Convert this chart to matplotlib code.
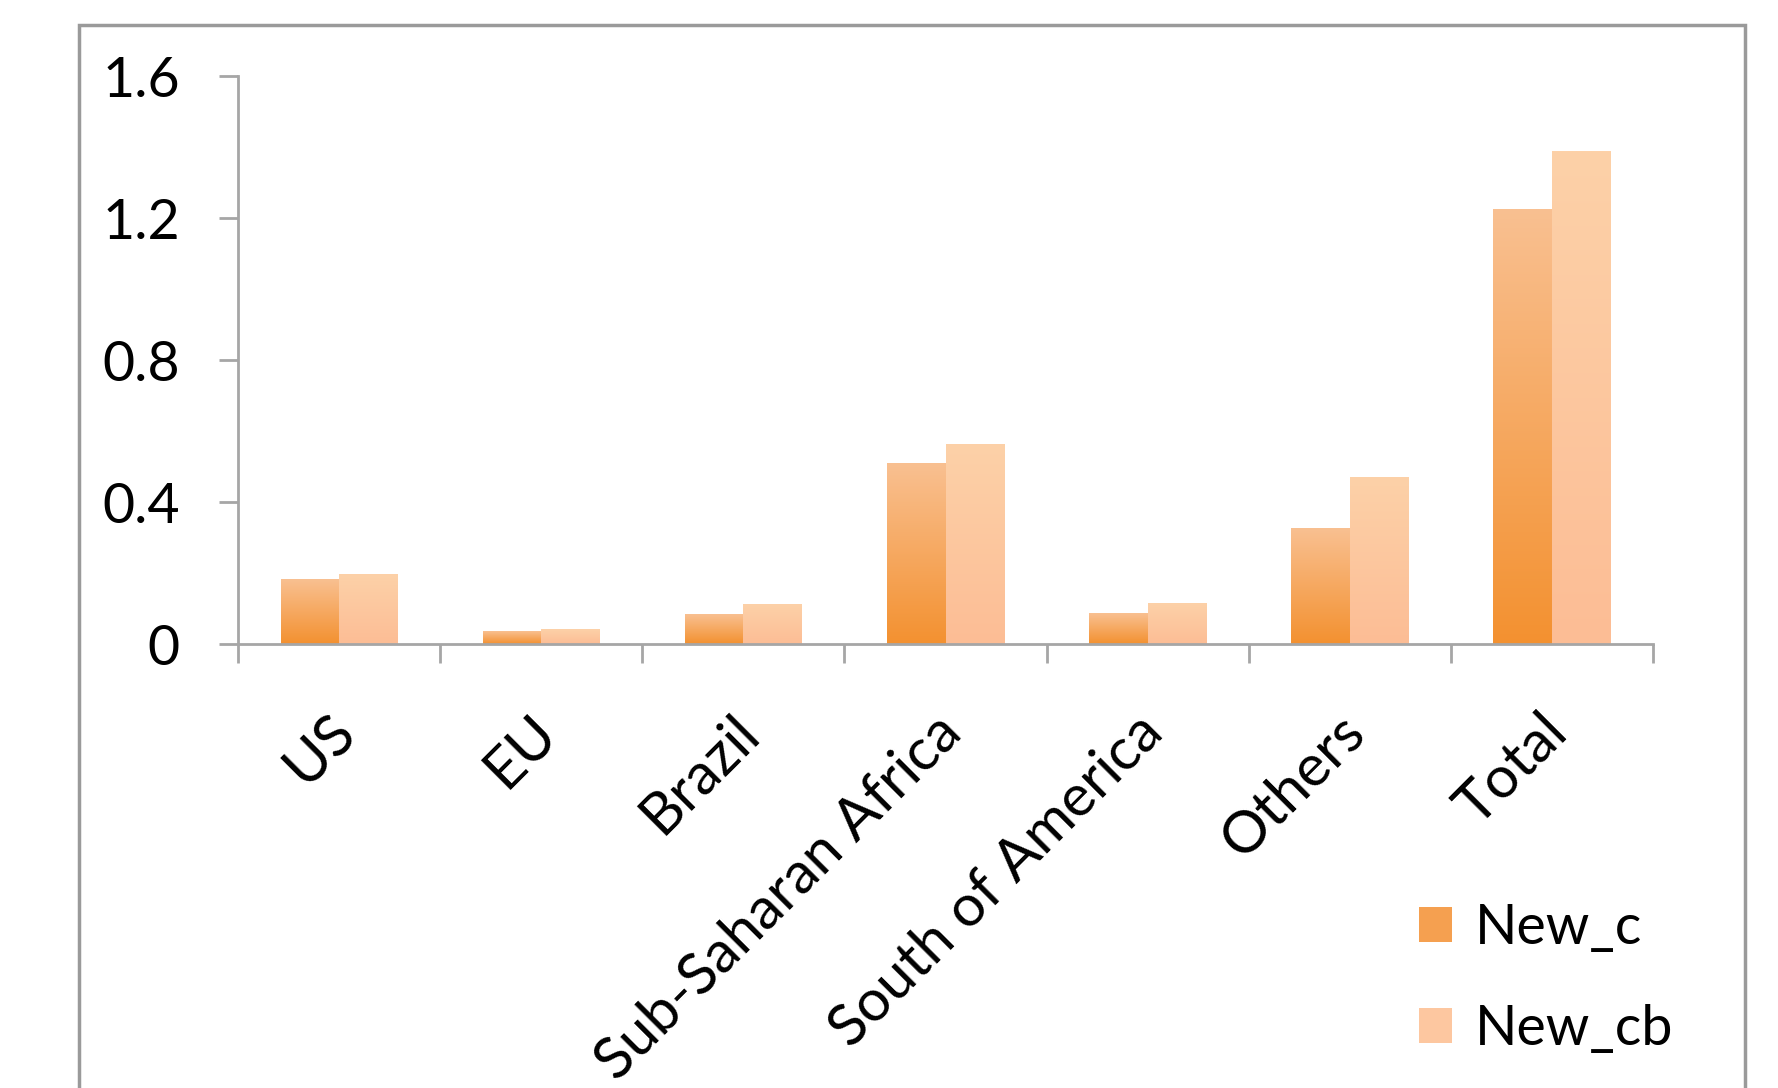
import numpy as np
import matplotlib.pyplot as plt
from matplotlib.colors import LinearSegmentedColormap
from matplotlib.patches import Rectangle, Patch
from matplotlib.transforms import ScaledTranslation

plt.rcParams['font.family'] = ['Lato', 'DejaVu Sans']

# data
regions = ['US', 'EU', 'Brazil', 'Sub-Saharan Africa', 'South of America', 'Others', 'Total']
new_c = [0.182, 0.035, 0.083, 0.508, 0.086, 0.326, 1.224]
new_cb = [0.195, 0.040, 0.110, 0.562, 0.115, 0.470, 1.387]
series = ['New_c', 'New_cb']
yticks = [0, 0.4, 0.8, 1.2, 1.6]
ytick_labels = ['0', '0.4', '0.8', '1.2', '1.6']

# bottom colour -> top colour for each series
grad = {
    'New_c': ('#F39130', '#F9C091'),
    'New_cb': ('#FCBD95', '#FDD1A8'),
}
legend_col = {'New_c': '#F5A050', 'New_cb': '#FDC7A0'}

fig = plt.figure(figsize=(17.78, 10.88), dpi=100)
ax = fig.add_axes([0.1339, 0.408, 0.7958, 0.522])

# outer chart frame
fig.patches.append(Rectangle((0.0445, -0.05), 0.937, 1.027, transform=fig.transFigure,
                             fill=False, edgecolor='#9a9a9a', lw=2.5, zorder=0))

w = 0.29
x = np.arange(len(regions))
g = np.linspace(0, 1, 256).reshape(-1, 1)
for vals, name, off in [(new_c, 'New_c', -w / 2), (new_cb, 'New_cb', w / 2)]:
    cmap = LinearSegmentedColormap.from_list(name, list(grad[name]))
    for xi, v in zip(x, vals):
        ax.imshow(g, cmap=cmap, origin='lower', aspect='auto',
                  extent=[xi + off - w / 2, xi + off + w / 2, 0, v], zorder=2)

ax.set_xlim(-0.5, len(regions) - 0.5)
ax.set_ylim(0, 1.6)
ax.set_aspect('auto')

for s in ['top', 'right']:
    ax.spines[s].set_visible(False)
for s in ['left', 'bottom']:
    ax.spines[s].set_color('#a6a6a6')
    ax.spines[s].set_linewidth(2)

ax.set_yticks(yticks)
ax.set_yticklabels(ytick_labels)
ax.set_xticks(np.arange(-0.5, len(regions), 1.0))
ax.set_xticklabels([])
ax.set_xticks(x, minor=True)
ax.set_xticklabels(regions, minor=True, rotation=45, ha='right', va='top',
                   rotation_mode='anchor')
ax.tick_params(axis='both', which='major', length=14, width=2, color='#a6a6a6',
               labelsize=40, pad=28)
ax.tick_params(axis='x', which='minor', length=0, labelsize=42, pad=44)
shift = ScaledTranslation(-12 / 100, 0, fig.dpi_scale_trans)
for lab in ax.get_xticklabels(minor=True):
    lab.set_transform(lab.get_transform() + shift)

handles = [Patch(facecolor=legend_col[s], edgecolor='none') for s in series]
fig.legend(handles, series, loc='upper left', bbox_to_anchor=(0.77, 0.216),
           frameon=False, fontsize=40, handlelength=0.6, handleheight=0.6,
           handletextpad=0.4, labelspacing=0.9)

fig.savefig('out.png', dpi=100)
